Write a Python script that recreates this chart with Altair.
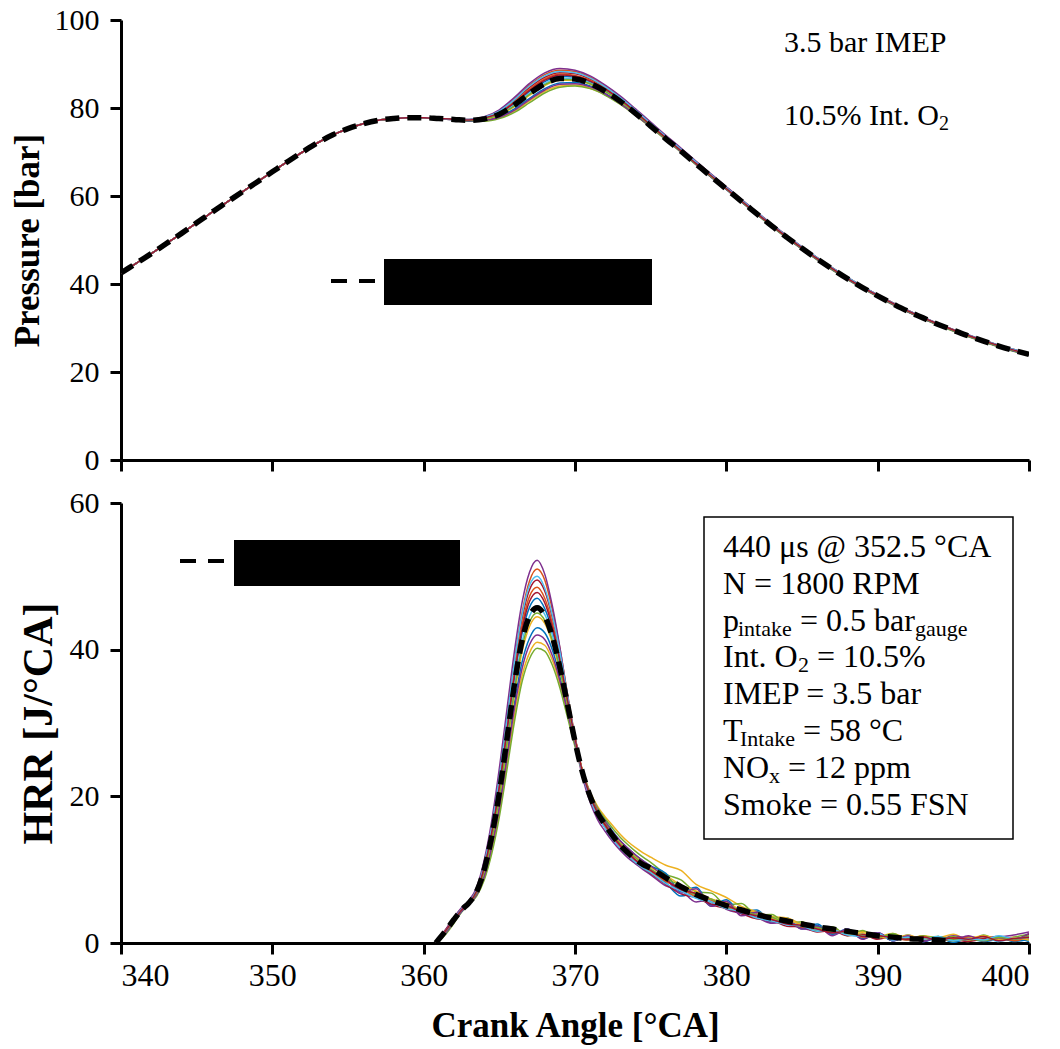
import altair as alt
import pandas as pd

# ---------------- data ----------------
CYCLES = ["C01", "C02", "C03", "C04", "C05", "C06", "C07",
          "C08", "C09", "C10", "C11", "C12", "C13", "C14"]
CYCLE_COLORS = ["#0072BD", "#D95319", "#EDB120", "#7E2F8E", "#77AC30", "#4DBEEE", "#A2142F",
                "#0072BD", "#D95319", "#EDB120", "#7E2F8E", "#77AC30", "#4DBEEE", "#A2142F"]

# compression part (identical for all cycles), 340..361 CA
CA_COMP = list(range(340, 362))
P_COMP = [42.5, 44.7, 46.9, 49.2, 51.5, 53.9, 56.3, 58.6, 60.9, 63.2, 65.5,
          67.8, 70.0, 72.1, 73.9, 75.3, 76.4, 77.2, 77.6, 77.8, 77.8, 77.6]

# per-cycle pressure from 362 CA on
P_GRID = [362, 363, 364, 365, 366, 367, 368, 369, 370, 371, 372, 373, 374, 375,
          376, 377, 378, 379, 380, 382, 384, 386, 388, 390, 392, 394, 396, 398, 400]
P_CYCLES = [
    [77.4, 77.2, 77.6, 78.8, 81.0, 83.8, 86.0, 87.2, 87.0, 85.9, 84.1, 81.7, 78.9, 76.0, 73.1, 70.3, 67.4, 64.5, 61.7, 56.1, 50.7, 45.8, 41.3, 37.4, 33.9, 30.9, 28.3, 26.0, 24.0],
    [77.4, 77.4, 77.9, 79.4, 82.1, 85.2, 87.6, 88.6, 88.3, 87.0, 85.0, 82.5, 79.6, 76.6, 73.6, 70.7, 67.8, 64.9, 62.0, 56.3, 50.9, 46.0, 41.5, 37.5, 34.0, 31.0, 28.4, 26.1, 24.2],
    [77.4, 77.0, 77.1, 77.8, 79.3, 81.6, 83.8, 85.0, 85.2, 84.5, 83.0, 80.9, 78.4, 75.7, 72.9, 70.1, 67.2, 64.4, 61.6, 55.9, 50.5, 45.6, 41.1, 37.2, 33.7, 30.7, 28.1, 25.8, 23.9],
    [77.4, 77.4, 78.0, 79.6, 82.4, 85.6, 88.0, 89.0, 88.6, 87.3, 85.2, 82.7, 79.8, 76.8, 73.8, 70.9, 67.9, 65.0, 62.1, 56.4, 51.0, 46.0, 41.5, 37.5, 34.0, 31.0, 28.4, 26.1, 24.2],
    [77.4, 77.0, 77.0, 77.6, 79.0, 81.2, 83.4, 84.7, 85.0, 84.4, 82.9, 80.8, 78.3, 75.6, 72.8, 70.0, 67.1, 64.3, 61.5, 55.8, 50.4, 45.5, 41.0, 37.1, 33.6, 30.6, 28.0, 25.7, 23.8],
    [77.4, 77.2, 77.5, 78.6, 80.7, 83.4, 85.6, 86.8, 86.7, 85.7, 83.9, 81.5, 78.8, 75.9, 73.0, 70.2, 67.3, 64.4, 61.6, 56.0, 50.6, 45.7, 41.2, 37.3, 33.8, 30.8, 28.2, 25.9, 24.0],
    [77.4, 77.3, 77.8, 79.2, 81.7, 84.7, 87.0, 88.0, 87.8, 86.6, 84.6, 82.2, 79.4, 76.4, 73.4, 70.5, 67.6, 64.7, 61.9, 56.2, 50.8, 45.9, 41.4, 37.5, 34.0, 30.9, 28.3, 26.0, 24.1],
    [77.4, 77.1, 77.3, 78.1, 79.8, 82.2, 84.4, 85.7, 85.8, 85.0, 83.3, 81.1, 78.5, 75.8, 72.9, 70.1, 67.2, 64.3, 61.5, 55.9, 50.5, 45.6, 41.1, 37.2, 33.7, 30.7, 28.1, 25.8, 23.9],
    [77.4, 77.3, 77.7, 79.0, 81.4, 84.3, 86.6, 87.7, 87.4, 86.3, 84.4, 82.0, 79.2, 76.2, 73.3, 70.4, 67.5, 64.6, 61.8, 56.2, 50.8, 45.9, 41.4, 37.4, 33.9, 30.9, 28.3, 26.0, 24.1],
    [77.4, 77.2, 77.4, 78.4, 80.3, 82.9, 85.1, 86.3, 86.3, 85.4, 83.7, 81.4, 78.7, 75.9, 73.0, 70.2, 67.3, 64.4, 61.6, 56.0, 50.6, 45.7, 41.2, 37.3, 33.8, 30.8, 28.2, 25.9, 24.0],
    [77.4, 77.1, 77.2, 77.9, 79.5, 81.9, 84.1, 85.4, 85.5, 84.8, 83.2, 81.0, 78.5, 75.7, 72.9, 70.1, 67.2, 64.3, 61.5, 55.9, 50.5, 45.6, 41.1, 37.2, 33.7, 30.7, 28.1, 25.8, 23.9],
    [77.4, 77.2, 77.5, 78.5, 80.5, 83.1, 85.3, 86.5, 86.4, 85.5, 83.8, 81.5, 78.8, 75.9, 73.0, 70.2, 67.3, 64.4, 61.6, 56.0, 50.6, 45.7, 41.2, 37.3, 33.8, 30.8, 28.2, 25.9, 24.0],
    [77.4, 77.4, 77.9, 79.3, 81.9, 85.0, 87.3, 88.3, 88.0, 86.8, 84.8, 82.3, 79.5, 76.5, 73.5, 70.6, 67.7, 64.8, 61.9, 56.3, 50.9, 46.0, 41.5, 37.5, 34.0, 31.0, 28.4, 26.1, 24.2],
    [77.4, 77.3, 77.7, 78.9, 81.2, 84.0, 86.3, 87.5, 87.2, 86.1, 84.3, 81.9, 79.1, 76.1, 73.2, 70.3, 67.4, 64.6, 61.7, 56.1, 50.7, 45.8, 41.3, 37.4, 33.9, 30.9, 28.3, 26.0, 24.0],
]

# mean pressure, 362..400 CA
P_MEAN_CA = list(range(362, 401))
P_MEAN_TAIL = [77.4, 77.2, 77.5, 78.6, 80.7, 83.3, 85.5, 86.7, 86.6, 85.6, 83.8, 81.5, 78.8,
               75.9, 73.0, 70.2, 67.3, 64.4, 61.6, 58.8, 56.0, 53.2, 50.6, 48.1, 45.7, 43.4,
               41.2, 39.2, 37.3, 35.5, 33.8, 32.3, 30.8, 29.5, 28.2, 27.0, 25.9, 24.9, 24.0]

# heat release rate
H_GRID = [360.8, 361.0, 361.5, 362.0, 362.5, 363.0, 363.5, 364.0, 364.5, 365.0, 365.5, 366.0,
          366.5, 367.0, 367.5, 368.0, 368.5, 369.0, 369.5, 370.0, 370.5, 371.0, 371.5, 372.0,
          372.5, 373.0, 373.5, 374.0, 374.5, 375.0,
          376, 377, 378, 379, 380, 381, 382, 383, 384, 385, 386, 387, 388, 389, 390,
          391, 392, 393, 394, 395, 396, 397, 398, 399, 400]
H_CYCLES = [
    [0.0, 0.4, 1.7, 3.1, 4.5, 5.5, 7.0, 10.2, 15.0, 21.0, 28.6, 36.2, 42.2, 45.8, 47.0, 45.6, 42.6, 38.2, 33.0, 27.8, 23.4, 20.2, 17.9, 16.2, 14.6, 13.2, 12.2, 11.2, 10.4, 9.8,
     8.2, 6.4, 6.9, 5.0, 5.6, 4.2, 4.5, 3.0, 3.4, 2.1, 2.6, 1.2, 1.9, 0.6, 1.4, 0.3, 1.0, 0.2, 0.7, 0.1, 0.6, 0.2, 0.5, 0.7, 0.2],
    [0.0, 0.5, 1.9, 3.4, 4.7, 5.7, 7.4, 10.9, 16.0, 22.8, 30.6, 38.5, 45.0, 49.4, 51.0, 49.5, 45.5, 40.2, 34.0, 28.2, 23.3, 19.8, 17.4, 15.7, 14.2, 13.0, 12.0, 11.2, 10.4, 9.7,
     8.5, 7.2, 6.8, 5.6, 5.3, 4.2, 4.0, 3.1, 3.0, 2.2, 2.1, 1.5, 1.3, 1.0, 1.2, 0.6, 0.8, 0.4, 0.7, 0.3, 0.9, 0.5, 0.4, 0.8, 0.5],
    [0.0, 0.3, 1.4, 2.8, 4.3, 5.4, 6.5, 8.8, 12.6, 17.8, 24.3, 31.0, 36.4, 39.6, 41.0, 40.6, 38.6, 35.4, 31.3, 27.1, 23.4, 20.6, 18.6, 17.2, 16.0, 14.8, 13.8, 13.0, 12.3, 11.7,
     10.6, 9.9, 8.0, 7.1, 6.2, 5.0, 4.3, 3.6, 3.4, 2.6, 2.3, 1.8, 1.4, 1.6, 0.9, 1.3, 0.6, 1.0, 0.7, 1.2, 0.4, 0.8, 0.6, 0.3, 0.7],
    [0.0, 0.6, 2.0, 3.5, 4.8, 5.8, 7.6, 11.3, 16.7, 23.8, 31.8, 39.8, 46.4, 50.6, 52.2, 50.3, 46.0, 40.3, 33.8, 27.6, 22.6, 19.2, 16.8, 15.2, 13.8, 12.6, 11.6, 10.8, 10.0, 9.3,
     7.8, 7.2, 5.6, 5.9, 4.6, 4.0, 3.5, 2.7, 2.8, 2.0, 1.7, 2.0, 1.1, 1.0, 1.4, 0.5, 0.7, 0.9, 0.4, 1.0, 0.6, 0.3, 0.8, 1.1, 1.5],
    [0.0, 0.2, 1.3, 2.7, 4.2, 5.3, 6.4, 8.6, 12.2, 17.2, 23.6, 30.2, 35.6, 38.8, 40.2, 39.8, 37.9, 34.8, 30.8, 26.8, 23.2, 20.4, 18.4, 16.9, 15.6, 14.4, 13.4, 12.5, 11.7, 11.0,
     9.4, 8.6, 7.0, 6.8, 5.2, 5.4, 3.8, 3.9, 2.6, 2.9, 1.7, 2.2, 1.0, 1.7, 0.6, 1.3, 0.4, 1.0, 0.3, 0.9, 0.2, 1.1, 0.4, 0.8, 1.2],
    [0.0, 0.3, 1.6, 3.0, 4.4, 5.5, 6.9, 9.9, 14.4, 20.3, 27.6, 35.0, 41.0, 44.6, 46.0, 44.8, 42.0, 37.8, 32.8, 27.6, 23.2, 20.0, 17.7, 16.0, 14.5, 13.2, 12.1, 11.2, 10.5, 9.8,
     8.7, 7.4, 6.6, 5.7, 5.2, 4.3, 3.9, 3.4, 2.8, 2.6, 1.8, 1.6, 1.2, 1.3, 0.7, 0.9, 0.4, 0.6, 0.8, 0.3, 0.5, 0.9, 0.2, 0.6, 0.4],
    [0.0, 0.5, 1.9, 3.3, 4.6, 5.6, 7.3, 10.7, 15.7, 22.3, 30.0, 37.8, 44.2, 48.2, 49.5, 48.0, 44.4, 39.5, 33.6, 28.0, 23.2, 19.8, 17.4, 15.7, 14.2, 12.9, 11.9, 11.0, 10.2, 9.5,
     8.0, 6.7, 6.2, 5.2, 4.7, 4.0, 3.3, 3.1, 2.3, 2.2, 1.5, 1.7, 1.0, 1.2, 0.5, 0.9, 0.6, 0.3, 0.8, 0.5, 0.2, 0.6, 0.9, 0.5, 1.2],
    [0.0, 0.3, 1.5, 2.9, 4.3, 5.4, 6.7, 9.3, 13.4, 18.9, 25.7, 32.7, 38.3, 41.6, 43.0, 42.3, 40.0, 36.4, 32.0, 27.4, 23.4, 20.4, 18.2, 16.6, 15.2, 13.9, 12.9, 12.0, 11.2, 10.5,
     9.5, 7.0, 7.6, 5.2, 5.9, 4.1, 4.3, 2.9, 3.2, 1.9, 2.4, 1.2, 1.8, 0.6, 1.3, 0.3, 1.1, 0.2, 0.9, 0.1, 0.7, 0.3, 0.9, 0.2, 0.5],
    [0.0, 0.4, 1.8, 3.2, 4.5, 5.6, 7.2, 10.4, 15.3, 21.6, 29.3, 37.0, 43.3, 47.3, 48.5, 47.0, 43.6, 38.9, 33.4, 28.0, 23.4, 20.0, 17.6, 16.0, 14.5, 13.2, 12.2, 11.3, 10.5, 9.8,
     8.4, 7.5, 6.3, 5.9, 4.8, 4.4, 3.8, 3.0, 2.8, 2.2, 2.0, 1.4, 1.5, 0.8, 1.0, 0.7, 0.4, 0.9, 0.3, 0.6, 0.8, 0.4, 0.7, 0.3, 0.9],
    [0.0, 0.3, 1.6, 3.0, 4.4, 5.4, 6.8, 9.6, 13.9, 19.6, 26.7, 33.9, 39.7, 43.2, 44.5, 43.6, 41.0, 37.1, 32.5, 27.6, 23.5, 20.4, 18.2, 16.5, 15.0, 13.7, 12.7, 11.8, 11.0, 10.3,
     9.2, 7.9, 7.1, 6.0, 5.5, 4.5, 4.2, 3.3, 3.1, 2.5, 2.0, 1.9, 1.2, 1.4, 0.9, 0.6, 1.1, 0.5, 0.8, 0.3, 0.6, 1.0, 0.5, 0.7, 0.4],
    [0.0, 0.3, 1.5, 2.9, 4.3, 5.4, 6.6, 9.1, 13.1, 18.4, 25.1, 32.0, 37.4, 40.7, 42.0, 41.4, 39.2, 35.8, 31.6, 27.2, 23.3, 20.3, 18.1, 16.5, 15.1, 13.9, 12.9, 12.0, 11.2, 10.5,
     8.9, 6.8, 7.4, 5.0, 5.7, 3.7, 4.2, 2.7, 3.1, 1.9, 2.3, 1.0, 1.9, 0.5, 1.4, 0.3, 1.0, 0.2, 0.8, 0.4, 1.0, 0.3, 0.7, 0.5, 1.3],
    [0.0, 0.4, 1.7, 3.1, 4.5, 5.5, 6.9, 9.8, 14.2, 20.0, 27.2, 34.5, 40.3, 43.8, 45.0, 44.0, 41.3, 37.4, 32.6, 27.6, 23.3, 20.1, 17.9, 16.2, 14.8, 13.5, 12.5, 11.6, 10.8, 10.1,
     8.8, 7.8, 6.5, 6.0, 5.0, 4.5, 3.8, 3.5, 2.7, 2.3, 2.1, 1.5, 1.4, 1.0, 0.8, 1.2, 0.5, 0.7, 0.9, 0.4, 0.6, 0.3, 0.8, 0.5, 1.0],
    [0.0, 0.5, 1.8, 3.3, 4.6, 5.6, 7.3, 10.8, 15.9, 22.6, 30.4, 38.3, 44.7, 48.8, 50.0, 48.4, 44.7, 39.7, 33.8, 28.0, 23.1, 19.7, 17.3, 15.6, 14.1, 12.9, 11.9, 11.0, 10.2, 9.6,
     8.1, 7.1, 6.1, 5.5, 4.7, 4.3, 3.4, 3.0, 2.5, 2.3, 1.6, 1.8, 1.1, 0.9, 1.3, 0.4, 0.8, 0.5, 0.9, 0.3, 0.6, 0.4, 1.0, 0.6, 0.8],
    [0.0, 0.4, 1.8, 3.2, 4.5, 5.5, 7.1, 10.3, 15.1, 21.3, 28.9, 36.5, 42.7, 46.6, 47.8, 46.4, 43.1, 38.5, 33.2, 27.9, 23.3, 20.0, 17.7, 16.1, 14.6, 13.3, 12.3, 11.3, 10.6, 9.9,
     8.6, 7.3, 6.7, 5.3, 5.1, 4.2, 3.7, 3.2, 2.6, 2.4, 1.9, 1.4, 1.6, 0.9, 1.0, 0.7, 0.5, 0.8, 0.4, 0.7, 0.5, 0.9, 0.3, 0.6, 0.8],
]
H_MEAN_CA = H_GRID[:50]
H_MEAN = [0.0, 0.5, 1.8, 3.2, 4.5, 5.5, 7.0, 10.0, 14.6, 20.5, 27.8, 35.3, 41.2, 44.6, 45.7, 44.6,
          41.8, 37.6, 32.6, 27.5, 23.2, 20.0, 17.7, 16.1, 14.6, 13.3, 12.3, 11.4, 10.7, 10.2,
          8.9, 7.7, 6.6, 5.8, 5.1, 4.5, 3.9, 3.4, 3.0, 2.6, 2.2, 1.9, 1.6, 1.3, 1.0, 0.8, 0.6,
          0.5, 0.4, 0.3]

# ---------------- tables ----------------
p_rows = []
for name, vals in zip(CYCLES, P_CYCLES):
    for ca, v in zip(CA_COMP, P_COMP):
        p_rows.append({"cycle": name, "ca": ca, "val": v})
    for ca, v in zip(P_GRID, vals):
        p_rows.append({"cycle": name, "ca": ca, "val": v})
p_df = pd.DataFrame(p_rows)
p_mean_df = pd.DataFrame({"ca": CA_COMP + P_MEAN_CA, "val": P_COMP + P_MEAN_TAIL})

h_rows = []
for name, vals in zip(CYCLES, H_CYCLES):
    for ca, v in zip(H_GRID, vals):
        h_rows.append({"cycle": name, "ca": ca, "val": v})
h_df = pd.DataFrame(h_rows)
h_mean_df = pd.DataFrame({"ca": H_MEAN_CA, "val": H_MEAN})

SERIF = "Liberation Serif"
X_TICKS = [340, 350, 360, 370, 380, 390, 400]
xscale = alt.Scale(domain=[340, 400], nice=False, zero=False)
color_scale = alt.Scale(domain=CYCLES, range=CYCLE_COLORS)
W, H = 908, 440


def panel(cyc_df, mean_df, ymax, yticks, ytitle, ytitle_size, show_x_labels):
    if show_x_labels:
        xaxis = alt.Axis(values=X_TICKS, title="Crank Angle [°CA]", labelFontSize=32,
                         labelPadding=6, titlePadding=17, format="d")
    else:
        xaxis = alt.Axis(values=X_TICKS, labels=False, title=None)
    yaxis = alt.Axis(values=yticks, title=ytitle, format="d", labelPadding=11,
                     titlePadding=9, titleFontSize=ytitle_size)
    yscale = alt.Scale(domain=[0, ymax], nice=False)
    cyc = alt.Chart(cyc_df).mark_line(strokeWidth=1.5, interpolate="monotone", clip=True).encode(
        x=alt.X("ca:Q", scale=xscale, axis=xaxis),
        y=alt.Y("val:Q", scale=yscale, axis=yaxis),
        color=alt.Color("cycle:N", scale=color_scale, legend=None),
    )
    mean = alt.Chart(mean_df).mark_line(strokeWidth=5.5, color="black", strokeDash=[14, 8],
                                        interpolate="monotone", clip=True).encode(
        x=alt.X("ca:Q", scale=xscale),
        y=alt.Y("val:Q", scale=yscale),
    )
    return [cyc, mean]


def txt(s, x, y, size=32):
    return alt.Chart(pd.DataFrame({"t": [s]})).mark_text(
        font=SERIF, fontSize=size, color="black", align="left", baseline="alphabetic"
    ).encode(text="t:N", x=alt.value(x), y=alt.value(y))


def blackbox(x, x2, y, y2):
    return alt.Chart(pd.DataFrame({"a": [0]})).mark_rect(color="black").encode(
        x=alt.value(x), x2=alt.value(x2), y=alt.value(y), y2=alt.value(y2))


def dash(x, x2, y):
    return alt.Chart(pd.DataFrame({"a": [0]})).mark_rule(
        color="black", strokeWidth=4, strokeDash=[16, 12]).encode(
        x=alt.value(x), x2=alt.value(x2), y=alt.value(y))


top_layers = panel(p_df, p_mean_df, 100, [0, 20, 40, 60, 80, 100], "Pressure [bar]", 35, False)
top_layers += [
    txt("3.5 bar IMEP", 663, 32, 30),
    txt("10.5% Int. O", 663, 105, 30),
    txt("2", 818, 110, 20),
    blackbox(263, 531, 239, 285),
    dash(210, 254, 261),
]
top = alt.layer(*top_layers).properties(width=W, height=H)

SUB = 22
bot_layers = panel(h_df, h_mean_df, 60, [0, 20, 40, 60], "HRR [J/°CA]", 42, True)
bot_layers += [
    alt.Chart(pd.DataFrame({"a": [0]})).mark_rect(fill="white", stroke="black", strokeWidth=1.5).encode(
        x=alt.value(583), x2=alt.value(892), y=alt.value(14), y2=alt.value(336)),
    txt("440 μs @ 352.5 °CA", 602, 53.7),
    txt("N = 1800 RPM", 602, 90.6),
    txt("p", 602, 127.5),
    txt("intake", 617, 132.5, SUB),
    txt("= 0.5 bar", 679, 127.5),
    txt("gauge", 794, 132.5, SUB),
    txt("Int. O", 602, 164.4),
    txt("2", 677, 169.4, SUB),
    txt("= 10.5%", 696, 164.4),
    txt("IMEP = 3.5 bar", 602, 201.3),
    txt("T", 602, 238.2),
    txt("Intake", 619, 243.2, SUB),
    txt("= 58 °C", 682, 238.2),
    txt("NO", 602, 275.1),
    txt("x", 648, 280.1, SUB),
    txt("= 12 ppm", 667, 275.1),
    txt("Smoke = 0.55 FSN", 602, 312.0),
    blackbox(113, 339, 37, 83),
    dash(59, 103, 58),
]
bottom = alt.layer(*bot_layers).properties(width=W, height=H)

chart = alt.vconcat(top, bottom, spacing=13).properties(
    padding={"left": 10, "top": 5, "right": 5, "bottom": 5}, background="white"
).configure_view(stroke=None).configure_axis(
    domainColor="black", domainWidth=3, tickColor="black", tickWidth=3, tickSize=11,
    labelFont=SERIF, labelFontSize=30, labelColor="black", labelPadding=4,
    titleFont=SERIF, titleFontSize=35, titleFontWeight="bold", titleColor="black",
    grid=False,
)

chart.save("out.html", embed_options={"renderer": "svg", "actions": False})
